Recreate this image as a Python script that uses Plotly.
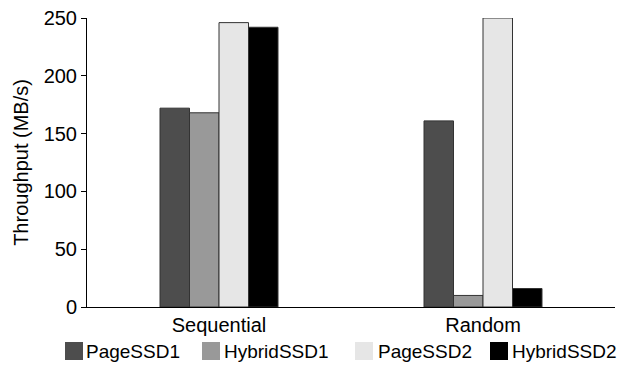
import plotly.graph_objects as go

categories = ["Sequential", "Random"]
series_names = ["PageSSD1", "HybridSSD1", "PageSSD2", "HybridSSD2"]
page_ssd1 = [172, 161]
hybrid_ssd1 = [168, 10]
page_ssd2 = [246, 250]
hybrid_ssd2 = [242, 16]
colors = ["#4d4d4d", "#999999", "#e6e6e6", "#000000"]

values = [page_ssd1, hybrid_ssd1, page_ssd2, hybrid_ssd2]

# page has an 8px body margin, so the figure is drawn at offset (8, 8)
OFF = 8
W, H = 629 - OFF, 366 - OFF
L, R, T, B = 87 - OFF, 14, 18 - OFF, 59
pw, ph = W - L - R, H - T - B

def px_x(x):
    return (x - OFF - L) / pw

def px_y(y):
    return (H - B - (y - OFF)) / ph

fig = go.Figure()
for name, vals, c in zip(series_names, values, colors):
    fig.add_trace(go.Bar(x=categories, y=vals, name=name, showlegend=False,
                         marker=dict(color=c, line=dict(color="#333333", width=1))))

font = dict(family="Liberation Sans", size=20, color="#000000")
legend_font = dict(family="Liberation Sans", size=19, color="#000000")

# custom legend (swatch + label) below the plot
legend_swatch_left = [65, 202, 355, 490]
legend_text_left = [85, 223, 377, 511]
shapes, annotations = [], []
for name, c, sx, tx in zip(series_names, colors, legend_swatch_left, legend_text_left):
    shapes.append(dict(type="rect", xref="paper", yref="paper",
                       x0=px_x(sx), x1=px_x(sx + 18), y0=px_y(360), y1=px_y(342),
                       fillcolor=c, line=dict(width=0)))
    annotations.append(dict(text=name, xref="paper", yref="paper",
                            x=px_x(tx), y=px_y(351), xanchor="left", yanchor="middle",
                            showarrow=False, font=legend_font, borderpad=0))

fig.update_layout(
    width=W, height=H,
    margin=dict(l=L, r=R, t=T, b=B, autoexpand=False),
    paper_bgcolor="white", plot_bgcolor="white",
    barmode="group", bargap=0.553, bargroupgap=0,
    font=font,
    showlegend=False,
    shapes=shapes, annotations=annotations,
    xaxis=dict(showline=True, linecolor="#000000", linewidth=1, ticks="",
               tickfont=font, showgrid=False),
    yaxis=dict(range=[0, 250], tickvals=[0, 50, 100, 150, 200, 250],
               showline=True, linecolor="#000000", linewidth=1,
               ticks="outside", ticklen=5, tickcolor="#000000",
               showgrid=False, zeroline=False, tickfont=font,
               ticklabeloverflow="allow",
               title=dict(text="Throughput (MB/s)", font=font, standoff=9)),
)

fig.write_html("out.html")
